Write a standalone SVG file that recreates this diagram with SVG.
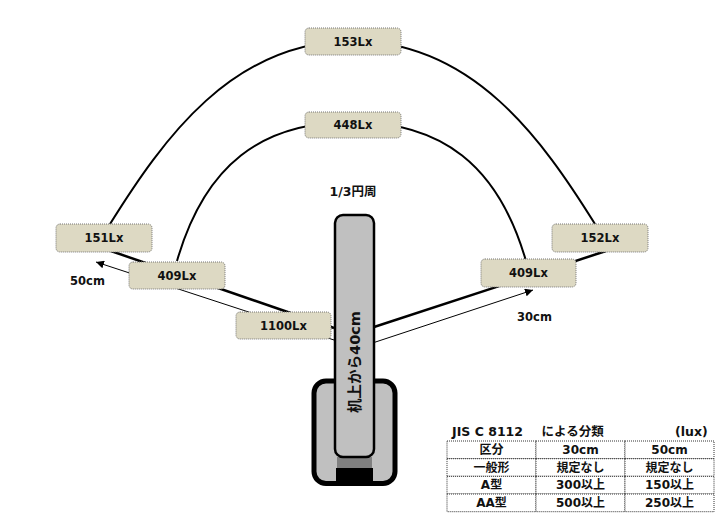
<svg xmlns="http://www.w3.org/2000/svg" width="725" height="525" viewBox="0 0 725 525">
<style>
text{font-family:"DejaVu Sans","Noto Sans CJK JP",sans-serif;font-weight:bold;fill:#111;}
.lbl rect{fill:#ddd9c3;stroke:#777;stroke-width:1;stroke-dasharray:1 1;}
.lbl text{font-size:11.5px;text-anchor:middle;dominant-baseline:central;}
.arc{fill:none;stroke:#000;stroke-width:2;}
.thick{stroke:#000;stroke-width:2.5;}
.thin{stroke:#000;stroke-width:1;}
.cell{fill:#fff;stroke:#333;stroke-width:1;stroke-dasharray:1 1;}
.tt{font-size:12px;text-anchor:middle;dominant-baseline:central;}
</style>
<defs>
<marker id="arr" viewBox="0 0 10 10" refX="10" refY="5" markerWidth="8" markerHeight="8" markerUnits="userSpaceOnUse" orient="auto">
<path d="M0,0 L10,5 L0,10 z" fill="#000"/>
</marker>
</defs>
<rect width="725" height="525" fill="#fff"/>
<g id="connectors">
<path class="arc" d="M110,224 C163,139 232.5,41 352.5,41 C472.5,41 542,139 595,224"/>
<path class="arc" d="M177,261 C204.7,165 261.5,122 351.5,122 C441.5,122 498.3,165 526,261"/>
<line class="thick" x1="334" y1="328" x2="108" y2="250"/>
<line class="thick" x1="374" y1="327" x2="606" y2="251"/>
<line class="thin" x1="334" y1="340" x2="96" y2="262" marker-end="url(#arr)"/>
<line class="thin" x1="374" y1="342.5" x2="533" y2="290" marker-end="url(#arr)"/>
</g>
<g id="n153" class="lbl"><rect x="305" y="28" width="96" height="27" rx="4"/><text x="353" y="41.5">153Lx</text></g>
<g id="n448" class="lbl"><rect x="305" y="112" width="96" height="26" rx="4"/><text x="353" y="125">448Lx</text></g>
<g id="n151" class="lbl"><rect x="56" y="224" width="96" height="28" rx="4"/><text x="104" y="238">151Lx</text></g>
<g id="n409L" class="lbl"><rect x="129" y="262" width="96" height="27" rx="4"/><text x="177" y="275.5">409Lx</text></g>
<g id="n1100" class="lbl"><rect x="236" y="312" width="95" height="27" rx="4"/><text x="283.5" y="325.5">1100Lx</text></g>
<g id="n152" class="lbl"><rect x="552" y="224" width="96" height="28" rx="4"/><text x="600" y="238">152Lx</text></g>
<g id="n409R" class="lbl"><rect x="481" y="259" width="95" height="28" rx="4"/><text x="528.5" y="273">409Lx</text></g>
<g id="dist">
<text x="87.5" y="280.5" font-size="11.5" text-anchor="middle" dominant-baseline="central">50cm</text>
<text x="534.5" y="316.5" font-size="11.5" text-anchor="middle" dominant-baseline="central">30cm</text>
<text x="353" y="191" font-size="12.5" text-anchor="middle" dominant-baseline="central">1/3円周</text>
</g>
<g id="lamp">
<rect x="314" y="381" width="81" height="102.5" rx="12" fill="#c0c0c0" stroke="#000" stroke-width="5"/>
<rect x="336" y="468" width="37" height="16" fill="#000"/>
<rect x="337" y="457" width="35" height="11" fill="#808080"/>
<rect x="335" y="215" width="39" height="242" rx="8" fill="#c0c0c0" stroke="#000" stroke-width="2.5"/>
<text x="355" y="362" font-size="14.5" text-anchor="middle" dominant-baseline="central" transform="rotate(-90 355 362)">机上から40cm</text>
</g>
<g id="table">
<text x="452" y="435.5" font-size="12.5"><tspan>JIS C 8112</tspan><tspan x="541.5">による分類</tspan></text>
<text x="675" y="435.5" font-size="12.5">(lux)</text>
<rect class="cell" x="447" y="441" width="89" height="17.7"/>
<rect class="cell" x="536" y="441" width="89" height="17.7"/>
<rect class="cell" x="625" y="441" width="89" height="17.7"/>
<rect class="cell" x="447" y="458.7" width="89" height="17.6"/>
<rect class="cell" x="536" y="458.7" width="89" height="17.6"/>
<rect class="cell" x="625" y="458.7" width="89" height="17.6"/>
<rect class="cell" x="447" y="476.3" width="89" height="17.7"/>
<rect class="cell" x="536" y="476.3" width="89" height="17.7"/>
<rect class="cell" x="625" y="476.3" width="89" height="17.7"/>
<rect class="cell" x="447" y="494" width="89" height="17.7"/>
<rect class="cell" x="536" y="494" width="89" height="17.7"/>
<rect class="cell" x="625" y="494" width="89" height="17.7"/>
<text class="tt" x="491.5" y="450">区分</text>
<text class="tt" x="580.5" y="450">30cm</text>
<text class="tt" x="669.5" y="450">50cm</text>
<text class="tt" x="491.5" y="467.5">一般形</text>
<text class="tt" x="580.5" y="467.5">規定なし</text>
<text class="tt" x="669.5" y="467.5">規定なし</text>
<text class="tt" x="491.5" y="485.2">A型</text>
<text class="tt" x="580.5" y="485.2">300以上</text>
<text class="tt" x="669.5" y="485.2">150以上</text>
<text class="tt" x="491.5" y="502.8">AA型</text>
<text class="tt" x="580.5" y="502.8">500以上</text>
<text class="tt" x="669.5" y="502.8">250以上</text>
</g>
</svg>
